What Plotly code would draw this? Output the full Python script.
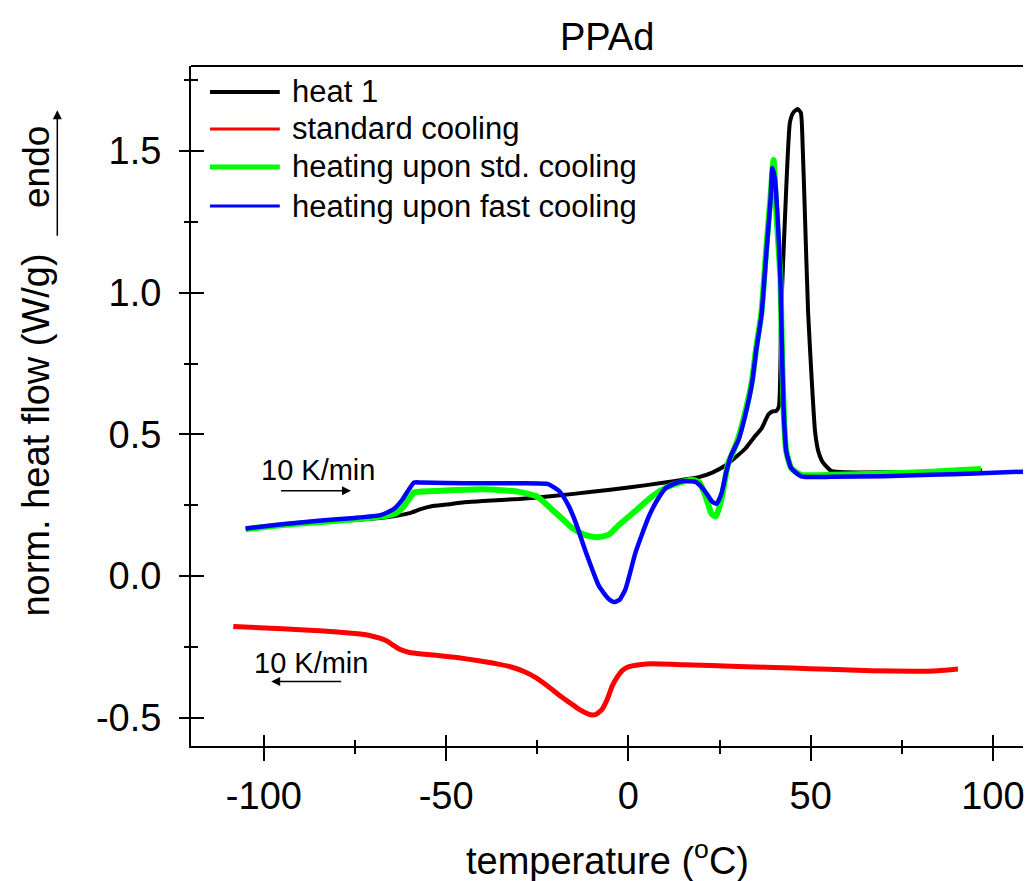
import plotly.graph_objects as go

# ---- DSC curves: temperature (°C) vs normalised heat flow (W/g) ----
heat1_T = [-105, -95, -85, -75, -68, -64, -60, -57, -54, -50, -45, -40, -30, -20, -10, 0,
           10, 15, 19.3, 23, 26.6, 29.5, 32.1, 34.5, 36.5, 38.4, 39.4, 40.6, 41.3, 41.9, 43.0,
           44.3, 45.2, 46.4, 47.3, 47.8, 48.4, 49.3, 50.3, 51.2, 52.1, 53.4, 55.8, 60, 70, 80, 90, 97]
heat1_Q = [0.168, 0.18, 0.19, 0.198, 0.205, 0.212, 0.222, 0.236, 0.246, 0.252, 0.26, 0.265, 0.272,
           0.283, 0.297, 0.312, 0.33, 0.34, 0.349, 0.365, 0.39, 0.42, 0.45, 0.49, 0.52, 0.57, 0.58,
           0.583, 0.60, 0.93, 1.28, 1.60, 1.635, 1.648, 1.635, 1.52, 1.284, 0.93, 0.69, 0.51, 0.44,
           0.40, 0.37, 0.366, 0.366, 0.367, 0.369, 0.372]

std_cool_T = [-108.4, -95, -84.8, -75, -71, -66.5, -62.9, -60.1, -56, -52.8, -47, -41, -36, -31.9,
              -28.5, -25.5, -22, -18.2, -15.8, -13.6, -11.8, -10.4, -8.8, -7.2, -5.8, -4.4, -3,
              -1.7, -0.3, 1, 3.5, 6.5, 15, 30.2, 45, 55, 66.7, 78.5, 85, 90.4]
std_cool_Q = [-0.178, -0.186, -0.193, -0.203, -0.21, -0.228, -0.258, -0.27, -0.276, -0.28, -0.288,
              -0.299, -0.31, -0.322, -0.338, -0.358, -0.39, -0.428, -0.45, -0.47, -0.483, -0.49,
              -0.488, -0.47, -0.435, -0.387, -0.355, -0.334, -0.322, -0.317, -0.312, -0.31, -0.313,
              -0.319, -0.325, -0.329, -0.334, -0.336, -0.334, -0.328]

std_heat_T = [-105, -95, -85, -75, -68, -64, -62, -60, -58.8, -57, -50, -40, -30, -25, -21, -18,
              -15.5, -12, -8.6, -5.5, -2.6, 2, 6.4, 10, 13, 15.6, 17.5, 19.5, 21.2, 22.8, 24,
              25.5, 27.4, 28.8, 30.2, 32.1, 33.9, 35.1, 36.5, 37.9, 39.0, 39.8, 40.6, 41.7, 42.1,
              42.6, 43.3, 44.7, 47.4, 55.6, 70, 83, 96.7]
std_heat_Q = [0.165, 0.18, 0.19, 0.20, 0.21, 0.22, 0.24, 0.275, 0.295, 0.298, 0.302, 0.306, 0.297,
              0.28, 0.235, 0.20, 0.17, 0.145, 0.137, 0.145, 0.18, 0.23, 0.28, 0.31, 0.325, 0.335,
              0.34, 0.33, 0.28, 0.22, 0.21, 0.27, 0.40, 0.44, 0.49, 0.58, 0.69, 0.81, 0.93, 1.17,
              1.34, 1.468, 1.28, 1.05, 0.81, 0.58, 0.44, 0.38, 0.357, 0.357, 0.362, 0.368, 0.378]

fast_heat_T = [-105, -95, -85, -75, -68, -66, -64, -62, -60, -58.8, -57, -50, -40, -30, -22,
               -19, -16.5, -14.5, -11.7, -8.1, -5.5, -4, -2.5, -0.8, 2, 5.6, 8, 10.2, 13, 15.6,
               18.4, 20, 21.5, 23, 24.2, 25.5, 26.9, 28.3, 30.2, 32.1, 33.9, 35.1, 36.5, 37.9,
               39.0, 39.5, 40.2, 41.0, 41.7, 42.1, 42.6, 43.3, 44.7, 47.4, 55.6, 70, 83, 95, 112]
fast_heat_Q = [0.168, 0.183, 0.195, 0.205, 0.215, 0.225, 0.24, 0.27, 0.31, 0.33, 0.33, 0.328,
               0.327, 0.327, 0.324, 0.30, 0.25, 0.19, 0.085, -0.035, -0.08, -0.092, -0.085,
               -0.046, 0.085, 0.21, 0.27, 0.31, 0.328, 0.335, 0.332, 0.315, 0.29, 0.262, 0.255,
               0.29, 0.37, 0.43, 0.48, 0.57, 0.68, 0.80, 0.92, 1.15, 1.33, 1.44, 1.40, 1.25, 1.05,
               0.81, 0.58, 0.44, 0.38, 0.352, 0.35, 0.352, 0.357, 0.362, 0.37]

series_names = ["heat 1", "standard cooling", "heating upon std. cooling", "heating upon fast cooling"]
series_colors = ["#000000", "#ff0000", "#00ff00", "#0000ff"]
series_widths = [4, 5, 6, 4.5]
legend_widths = [4, 3, 5, 3]

x_ticks = [-100, -50, 0, 50, 100]
x_tick_text = ["-100", "-50", "0", "50", "100"]
x_minor = [-75, -25, 25, 75]
y_ticks = [-0.5, 0.0, 0.5, 1.0, 1.5]
y_tick_text = ["-0.5", "0.0", "0.5", "1.0", "1.5"]
y_minor = [-0.25, 0.25, 0.75, 1.25, 1.75]

FONT = "Liberation Sans, Arial, sans-serif"
X_RANGE = [-120, 108.25]
Y_RANGE = [-0.6, 1.8]

fig = go.Figure()

curves = [(heat1_T, heat1_Q), (std_cool_T, std_cool_Q), (std_heat_T, std_heat_Q), (fast_heat_T, fast_heat_Q)]
for (t, q), name, col, w in zip(curves, series_names, series_colors, series_widths):
    fig.add_trace(go.Scatter(x=t, y=q, mode="lines", name=name,
                             line=dict(color=col, width=w, shape="spline", smoothing=0.5),
                             showlegend=False, hoverinfo="skip"))

# helper trace so the overlaid axis pair (inner halves of the crossing ticks) is rendered
fig.add_trace(go.Scatter(x=[None], y=[None], xaxis="x2", yaxis="y2", showlegend=False,
                         hoverinfo="skip"))

common_axis = dict(showgrid=False, zeroline=False, color="black", tickwidth=2)

fig.update_layout(
    width=1025, height=881,
    margin=dict(l=191, r=0, t=66, b=135),
    paper_bgcolor="white", plot_bgcolor="white",
    font=dict(family=FONT, color="black"),
    xaxis=dict(range=X_RANGE, tickvals=x_ticks, ticktext=x_tick_text, ticks="outside", ticklen=13,
               showline=True, linewidth=2, linecolor="black",
               tickfont=dict(size=38, family=FONT), ticklabeloverflow="allow",
               minor=dict(tickvals=x_minor, ticks="outside", ticklen=6,
                          tickwidth=2, tickcolor="black"),
               ticklabelstandoff=2,
               **common_axis),
    yaxis=dict(range=Y_RANGE, tickvals=y_ticks, ticktext=y_tick_text, ticks="outside", ticklen=10,
               showline=True, linewidth=2, linecolor="black",
               tickfont=dict(size=38, family=FONT),
               minor=dict(tickvals=y_minor, ticks="outside", ticklen=5,
                          tickwidth=2, tickcolor="black"),
               ticklabelstandoff=10,
               **common_axis),
    xaxis2=dict(range=X_RANGE, overlaying="x", anchor="y2", side="bottom", tickvals=x_ticks,
                ticks="inside", ticklen=11, showticklabels=False, showline=False,
                minor=dict(tickvals=x_minor, ticks="inside", ticklen=6,
                           tickwidth=2, tickcolor="black"),
                **common_axis),
    yaxis2=dict(range=Y_RANGE, overlaying="y", anchor="x2", side="left", tickvals=y_ticks,
                ticks="inside", ticklen=13, showticklabels=False, showline=False,
                minor=dict(tickvals=y_minor, ticks="inside", ticklen=7,
                           tickwidth=2, tickcolor="black"),
                **common_axis),
)

# top frame line
fig.add_shape(type="line", xref="paper", yref="paper", x0=0, x1=1, y0=1, y1=1,
              line=dict(color="black", width=2))

# legend drawn as sample lines + labels
legend_rows = [0.9618, 0.9074, 0.8515, 0.7941]
for name, col, lw, yy in zip(series_names, series_colors, legend_widths, legend_rows):
    fig.add_shape(type="line", xref="paper", yref="paper", x0=0.0228, x1=0.1067, y0=yy, y1=yy,
                  line=dict(color=col, width=lw))
    fig.add_annotation(xref="paper", yref="paper", x=0.1187, y=yy, text=name, showarrow=False,
                       xanchor="left", yanchor="middle", font=dict(size=31, family=FONT))

# chart title
fig.add_annotation(xref="paper", yref="paper", x=0.5, y=1.0426, text="PPAd", showarrow=False,
                   xanchor="center", yanchor="middle", font=dict(size=38, family=FONT))

# axis titles
fig.add_annotation(xref="paper", yref="paper", x=0.5, y=-0.1647,
                   text="temperature (<sup>o</sup>C)", showarrow=False,
                   xanchor="center", yanchor="middle", font=dict(size=38, family=FONT))
fig.add_annotation(xref="paper", yref="paper", x=-0.1859, y=0.457,
                   text="norm. heat flow (W/g)", textangle=-90, showarrow=False,
                   xanchor="center", yanchor="middle", font=dict(size=38, family=FONT))
fig.add_annotation(xref="paper", yref="paper", x=-0.1859, y=0.852,
                   text="endo", textangle=-90, showarrow=False,
                   xanchor="center", yanchor="middle", font=dict(size=37, family=FONT))
fig.add_annotation(xref="paper", yref="paper", x=-0.1607, y=0.935, ax=0, ay=127,
                   text="", showarrow=True, arrowhead=2, arrowsize=1.2, arrowwidth=1.5,
                   arrowcolor="black")

# heating / cooling rate markers
fig.add_annotation(x=-85.2, y=0.375, text="10 K/min", showarrow=False,
                   font=dict(size=29, family=FONT))
fig.add_annotation(x=-76.1, y=0.301, ax=-95.7, ay=0.301, axref="x", ayref="y", text="",
                   showarrow=True, arrowhead=2, arrowsize=1.2, arrowwidth=1.5, arrowcolor="black")
fig.add_annotation(x=-87.2, y=-0.307, text="10 K/min", showarrow=False,
                   font=dict(size=29, family=FONT))
fig.add_annotation(x=-98.0, y=-0.372, ax=-78.4, ay=-0.372, axref="x", ayref="y", text="",
                   showarrow=True, arrowhead=2, arrowsize=1.2, arrowwidth=1.5, arrowcolor="black")

fig.write_html("out.html")
